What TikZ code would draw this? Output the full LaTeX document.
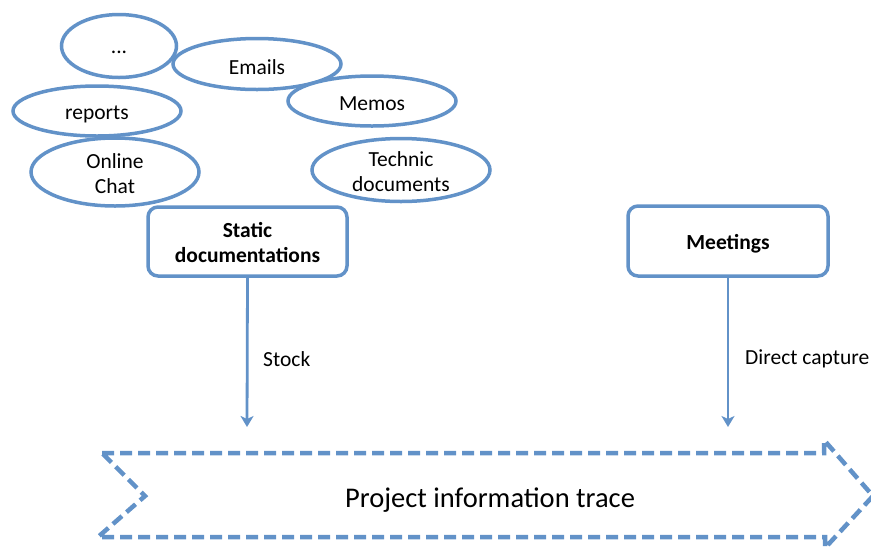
\documentclass[tikz,border=0pt]{standalone}
\usepackage{fontspec}
\setmainfont{Carlito}
\usetikzlibrary{shapes.geometric,arrows.meta}
\definecolor{lineblue}{RGB}{98,146,200}
\tikzset{
  bubble/.style={ellipse, draw=lineblue, line width=3.5pt, fill=white, inner sep=0pt},
  srcbox/.style={rectangle, rounded corners=10pt, draw=lineblue, line width=3.5pt, fill=white, inner sep=0pt},
  intext/.style={align=center, inner sep=0pt, font=\fontsize{21.5}{25}\selectfont},
  boldtext/.style={align=center, inner sep=0pt, font=\bfseries\fontsize{21.5}{25}\selectfont},
  flow/.style={draw=lineblue, line width=2.8pt, -{Stealth[length=11pt,width=13pt,inset=3pt]}},
  lbl/.style={font=\fontsize{21.5}{25}\selectfont, inner sep=0pt},
  tracebox/.style={draw=lineblue, line width=4.5pt, dash pattern=on 12pt off 6pt, line join=miter}
}
\begin{document}
\begin{tikzpicture}[x=1pt,y=-1pt]
\useasboundingbox (0,0) rectangle (871,550);
% chevron
\draw[tracebox] (102,453) -- (824,453) -- (824,440) -- (873,496) -- (825,548) -- (825,537) -- (98,537) -- (145,496) -- cycle;
\node[font=\fontsize{28.5}{32}\selectfont] (trace) at (490,500) {Project information trace};
% bubbles
\node[bubble, minimum width=115pt, minimum height=63pt, label={[intext, yshift=-6pt]center:...}] (dots) at (119,46) {};
\node[bubble, minimum width=168pt, minimum height=51pt, label={[intext, yshift=-3pt]center:Emails}] (emails) at (257,64) {};
\node[bubble, minimum width=168pt, minimum height=50pt, label={[intext, yshift=-3pt]center:Memos}] (memos) at (372,101) {};
\node[bubble, minimum width=168pt, minimum height=50pt, label={[intext, yshift=-3.5pt]center:reports}] (reports) at (97,111) {};
\node[bubble, minimum width=168pt, minimum height=68pt, label={[intext, yshift=-2pt]center:Online\\Chat}] (chat) at (115,172) {};
\node[bubble, minimum width=178pt, minimum height=63pt, label={[intext, yshift=-1.5pt]center:Technic\\documents}] (technic) at (401,170) {};
% boxes
\node[srcbox, minimum width=199pt, minimum height=69pt, label={[boldtext, yshift=-1pt]center:Static\\documentations}] (static) at (247.5,241.5) {};
\node[srcbox, minimum width=200pt, minimum height=70pt, label={[boldtext, yshift=-3pt]center:Meetings}] (meetings) at (728,241) {};
% arrows
\coordinate (s_end) at (247,427);
\coordinate (m_end) at (728,427);
\draw[flow] (static.south) -- (s_end);
\draw[flow] (meetings.south) -- (m_end);
\node[lbl, anchor=west] (stock) at (263,359) {Stock};
\node[lbl, anchor=west] (direct) at (745,359) {Direct capture};
\end{tikzpicture}
\end{document}
